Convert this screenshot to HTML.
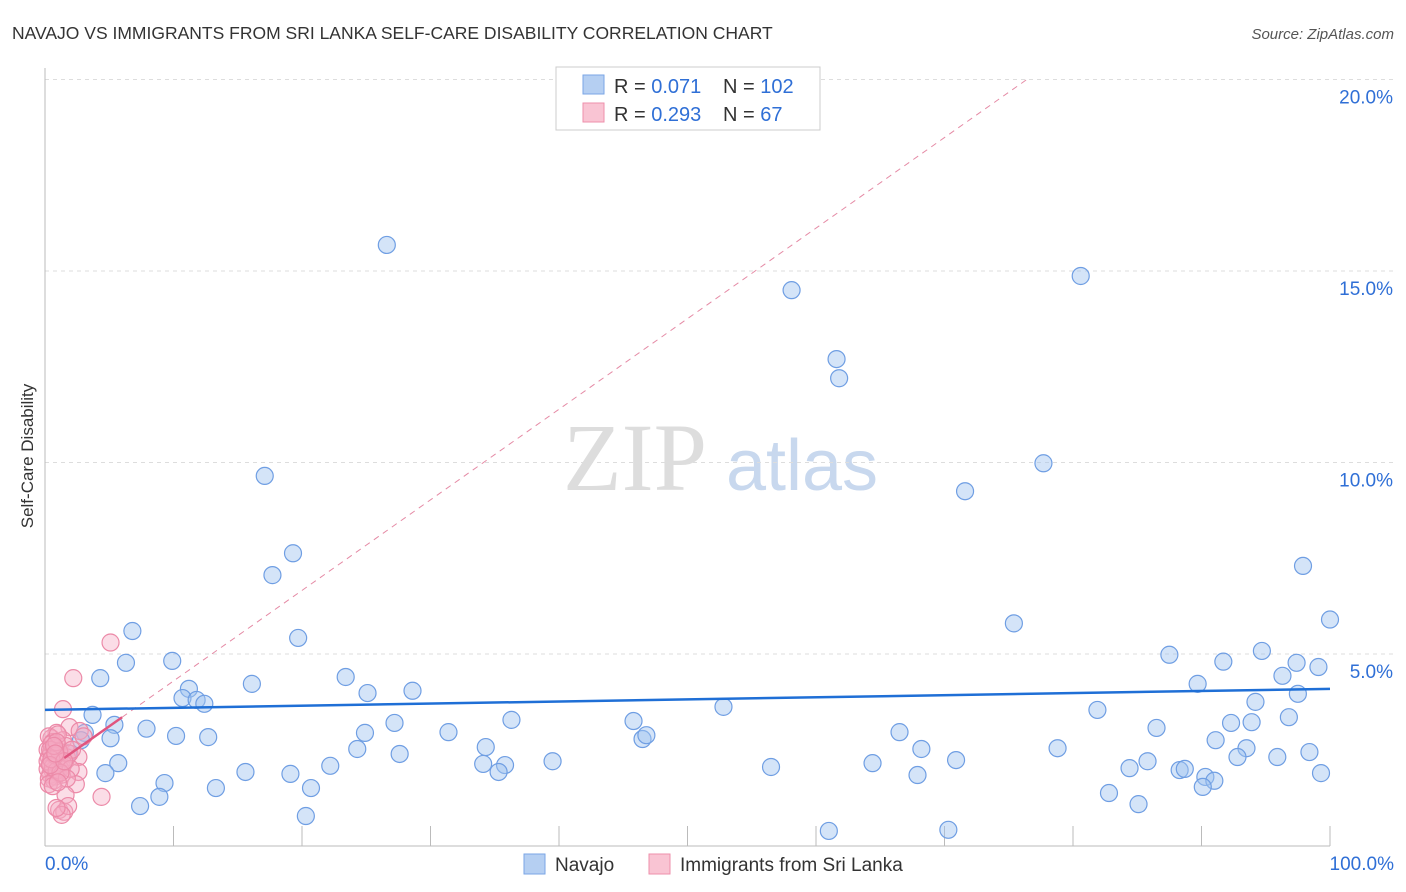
<!DOCTYPE html>
<html><head><meta charset="utf-8"><style>
body{margin:0;background:#fff;font-family:"Liberation Sans",sans-serif;}
svg{display:block}
</style></head><body>
<svg id="chart" width="1406" height="892">
<text x="12" y="39" font-size="17.5" fill="#333">NAVAJO VS IMMIGRANTS FROM SRI LANKA SELF-CARE DISABILITY CORRELATION CHART</text>
<text x="1394" y="39" font-size="15" fill="#555" font-style="italic" text-anchor="end">Source: ZipAtlas.com</text>
<text x="33" y="456" font-size="17" fill="#333" text-anchor="middle" transform="rotate(-90 33 456)">Self-Care Disability</text>
<g>
<text x="635" y="490" font-size="96" fill="#ddd" font-family="Liberation Serif,serif" text-anchor="middle">ZIP</text>
<text x="802" y="490" font-size="72" fill="#c8d8ee" text-anchor="middle">atlas</text>
</g>
<g id="grid"></g><g id="axes"></g><g id="marks"></g>
<g>
<rect x="556" y="67" width="264" height="63" fill="#fff" stroke="#ccc"/>
<rect x="583" y="75" width="21" height="19" fill="#b5cff2" stroke="#7aa6e6"/>
<rect x="583" y="103" width="21" height="19" fill="#f9c4d3" stroke="#ee8fab"/>
<text x="614" y="93" font-size="20" fill="#333">R = <tspan fill="#2f6fd6">0.071</tspan></text>
<text x="723" y="93" font-size="20" fill="#333">N = <tspan fill="#2f6fd6">102</tspan></text>
<text x="614" y="121" font-size="20" fill="#333">R = <tspan fill="#2f6fd6">0.293</tspan></text>
<text x="723" y="121" font-size="20" fill="#333">N = <tspan fill="#2f6fd6"> 67</tspan></text>
</g>
<g>
<rect x="524" y="854" width="21" height="20" fill="#b5cff2" stroke="#7aa6e6"/>
<text x="555" y="871" font-size="19" fill="#333">Navajo</text>
<rect x="649" y="854" width="21" height="20" fill="#f9c4d3" stroke="#ee8fab"/>
<text x="680" y="871" font-size="19" fill="#333">Immigrants from Sri Lanka</text>
</g>
</svg>
<script>
const navajoX=[26.6,58.1,80.6,61.6,61.8,17.1,77.7,71.6,19.3,17.7,97.9,100,75.4,6.8,19.7,6.3,9.9,4.3,16.1,23.4,28.6,25.1,11.2,10.7,11.8,12.4,3.7,5.4,7.9,10.2,12.7,27.2,24.9,31.4,36.3,45.8,46.5,46.8,52.8,87.5,91.7,94.7,97.4,99.1,96.3,97.5,89.7,94.2,81.9,86.5,92.3,93.9,96.8,66.5,91.1,78.8,93.5,92.8,95.9,98.4,34.3,39.5,34.1,35.8,35.3,27.6,24.3,22.2,19.1,15.6,5.7,4.7,9.3,13.3,8.9,7.4,20.7,20.3,56.5,64.4,68.2,70.9,67.9,85.8,84.4,88.3,88.7,90.3,91,90.1,99.3,82.8,85.1,61,70.3,3.1,2.8,1.8,5.1];
const navajoY=[15.68,14.5,14.87,12.7,12.2,9.65,9.98,9.25,7.63,7.06,7.3,5.9,5.8,5.6,5.42,4.77,4.82,4.37,4.22,4.4,4.04,3.98,4.09,3.85,3.8,3.7,3.41,3.15,3.05,2.86,2.83,3.2,2.94,2.96,3.28,3.25,2.78,2.88,3.62,4.98,4.8,5.08,4.77,4.66,4.43,3.96,4.22,3.75,3.54,3.07,3.2,3.22,3.35,2.96,2.75,2.54,2.54,2.31,2.31,2.44,2.57,2.2,2.13,2.1,1.92,2.39,2.52,2.08,1.87,1.92,2.15,1.89,1.63,1.5,1.27,1.03,1.5,0.77,2.05,2.15,2.52,2.23,1.84,2.2,2.02,1.97,2.0,1.79,1.69,1.53,1.89,1.37,1.08,0.38,0.41,2.94,2.75,2.41,2.8];
const lankaX=[5.1,2.2,1.4,1.9,2.7,0.9,0.5,2.6,2.6,4.4,2.4,1.6,1.1,1.5,1.8,1.3,0.9,0.3,0.6,1.0,1.4,0.2,0.5,0.8,1.2,1.6,0.3,0.7,1.1,1.5,0.4,0.9,1.3,1.7,0.2,0.6,1.0,0.4,0.8,1.2,0.3,0.7,1.9,0.5,1.0,1.4,0.2,0.6,0.9,1.3,0.4,0.8,3.0,2.0,1.7,0.3,0.6,1.1,0.5,0.9,1.2,0.4,0.7,2.1,1.5,0.8,1.0];
const lankaY=[5.3,4.37,3.56,3.09,2.99,2.94,2.8,2.31,1.92,1.27,1.6,1.32,0.93,0.88,1.03,0.8,0.98,2.85,2.7,2.6,2.75,2.5,2.45,2.55,2.4,2.6,2.3,2.35,2.25,2.2,2.15,2.1,2.05,2.3,2.0,1.95,1.9,1.85,1.8,2.0,1.75,1.7,2.4,2.65,2.9,2.15,2.2,2.05,1.95,1.85,2.5,2.35,2.85,2.0,1.75,1.6,1.55,2.45,2.25,2.7,1.9,2.1,2.6,2.5,2.2,2.4,1.65];
const xTicks=[0,10,20,30,40,50,60,70,80,90,100];
const yTicks=[5,10,15,20];
const navajoTrend=[3.54,4.09];
const lankaTrend=[1.93,0.2365];
const NS="http://www.w3.org/2000/svg";
const X=v=>45+v*12.85, Y=v=>845.5-v*38.3;
function mk(p,t,a){const e=document.createElementNS(NS,t);for(const k in a)e.setAttribute(k,a[k]);p.appendChild(e);return e;}
const grid=document.getElementById('grid'),axes=document.getElementById('axes'),marks=document.getElementById('marks');
yTicks.forEach(t=>{
 const l=mk(grid,'line',{x1:45,x2:1394,y1:Y(t),y2:Y(t),stroke:'#ddd','stroke-dasharray':'4,4'});
 
 
 const tx=mk(axes,'text',{x:1393,y:Y(t)+24,'font-size':19,fill:'#2f6fd6','text-anchor':'end'});
 tx.textContent=t.toFixed(1)+'%';
 
 
});
const ax=mk(axes,'line',{x1:45,x2:45,y1:68,y2:846,stroke:'#bbb'});


const bx=mk(axes,'line',{x1:45,x2:1330,y1:846,y2:846,stroke:'#bbb'});


xTicks.forEach(t=>{if(t===0)return;
 const l=mk(axes,'line',{x1:X(t),x2:X(t),y1:826,y2:846,stroke:'#bbb'});
 
 
});
[[0,'start',45],[100,'end',1394]].forEach(([t,an,px])=>{
 const tx=mk(axes,'text',{x:px,y:870,'font-size':19,fill:'#2f6fd6','text-anchor':an});
 tx.textContent=t.toFixed(1)+'%';
 
 
});
navajoX.forEach((v,i)=>{
 const c=mk(marks,'circle',{cx:X(v),cy:Y(navajoY[i]),r:8.5,fill:'rgba(160,195,240,0.45)',stroke:'#6f9ee3','stroke-width':1.2});
 
 
});
lankaX.forEach((v,i)=>{
 const c=mk(marks,'circle',{cx:X(v),cy:Y(lankaY[i]),r:8.5,fill:'rgba(245,170,195,0.4)',stroke:'#ec8aa8','stroke-width':1.2});
 
 
});
const d=mk(marks,'line',{x1:X(6),y1:Y(lankaTrend[0]+6*lankaTrend[1]),x2:X(76.4),y2:Y(lankaTrend[0]+76.4*lankaTrend[1]),stroke:'#e58aa5','stroke-dasharray':'6,5','stroke-width':1});


const s=mk(marks,'line',{x1:X(1.5),y1:Y(lankaTrend[0]+1.5*lankaTrend[1]),x2:X(6),y2:Y(lankaTrend[0]+6*lankaTrend[1]),stroke:'#e0557f','stroke-width':2.5});


const b=mk(marks,'line',{x1:X(0),y1:Y(navajoTrend[0]),x2:X(100),y2:Y(navajoTrend[1]),stroke:'#1f6fd6','stroke-width':2.5});


</script>
</body></html>
